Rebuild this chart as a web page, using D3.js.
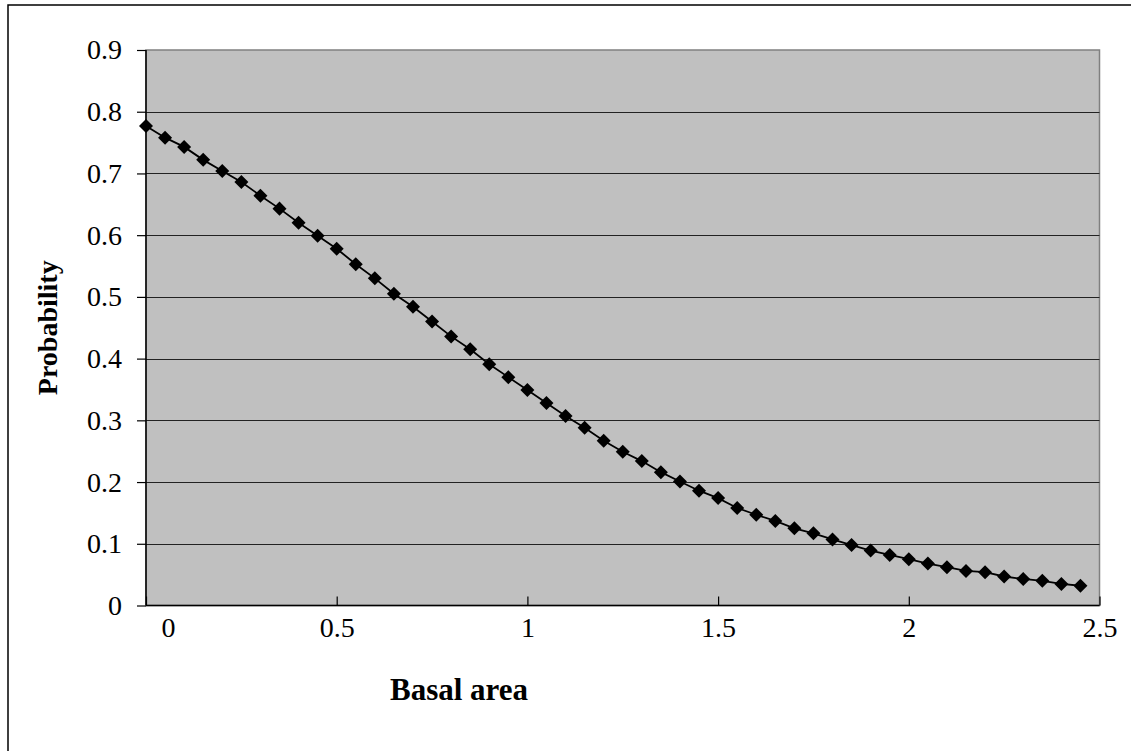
<!DOCTYPE html>
<html><head><meta charset="utf-8">
<script src="https://cdn.jsdelivr.net/npm/d3@7/dist/d3.min.js"></script>
<style>html,body{margin:0;padding:0;background:#fff;}svg{display:block;}</style>
</head><body>
<svg id="chart" width="1131" height="751"></svg>
<script>
const basalArea = [0,0.05,0.1,0.15,0.2,0.25,0.3,0.35,0.4,0.45,0.5,0.55,0.6,0.65,0.7,0.75,0.8,0.85,0.9,0.95,1,1.05,1.1,1.15,1.2,1.25,1.3,1.35,1.4,1.45,1.5,1.55,1.6,1.65,1.7,1.75,1.8,1.85,1.9,1.95,2,2.05,2.1,2.15,2.2,2.25,2.3,2.35,2.4,2.45];
const probability = [0.777,0.758,0.743,0.722,0.704,0.686,0.664,0.643,0.620,0.599,
  0.578,0.553,0.530,0.505,0.484,0.460,0.436,0.415,0.391,0.370,
  0.349,0.328,0.307,0.288,0.267,0.249,0.234,0.216,0.201,0.186,
  0.174,0.158,0.147,0.137,0.125,0.117,0.107,0.098,0.089,0.082,
  0.075,0.068,0.062,0.056,0.054,0.047,0.043,0.040,0.035,0.032];
const xTicks = [0,0.5,1,1.5,2,2.5];
const yTicks = [0,0.1,0.2,0.3,0.4,0.5,0.6,0.7,0.8,0.9];
const xTitle = "Basal area";
const yTitle = "Probability";

const svg = d3.select("#chart");
const L = 146, R = 1099.5, T = 50, B = 605.5;
const x = d3.scaleLinear().domain([0,2.5]).range([L,R]);
const y = d3.scaleLinear().domain([0,0.9]).range([B,T]);
const font = "'Liberation Serif','Times New Roman',serif";

// outer chart border
svg.append("rect").attr("x",8).attr("y",5).attr("width",1140).attr("height",760)
  .attr("fill","#fff").attr("stroke","#000").attr("stroke-width",1.5);

// plot area
svg.append("rect").attr("x",L).attr("y",T).attr("width",R-L).attr("height",B-T)
  .attr("fill","#c0c0c0").attr("stroke","#808080").attr("stroke-width",1.5);

// gridlines
svg.append("g").selectAll("line").data(yTicks.filter(d=>d>0 && d<0.9)).join("line")
  .attr("x1",L).attr("x2",R).attr("y1",d=>Math.round(y(d))+0.5).attr("y2",d=>Math.round(y(d))+0.5)
  .attr("stroke","#222").attr("stroke-width",1);

// y axis
const yAxis = d3.axisLeft(y).tickValues(yTicks).tickSize(9).tickPadding(15)
  .tickFormat(d=>d3.format("")(+d.toFixed(1)));
const gy = svg.append("g").attr("transform",`translate(${L},0)`).call(yAxis);
gy.select(".domain").attr("stroke","#000").attr("stroke-width",1.5).attr("d",`M0,${T}V${B}`);
gy.selectAll(".tick line").attr("stroke","#000").attr("stroke-width",1.2);
gy.selectAll(".tick text").attr("font-family",font).attr("font-size",28).attr("fill","#000");

// x axis (ticks inside)
const xAxis = d3.axisBottom(x).tickValues(xTicks).tickSize(-9).tickPadding(12)
  .tickFormat(d=>String(d));
const gx = svg.append("g").attr("transform",`translate(0,${B})`).call(xAxis);
gx.select(".domain").attr("stroke","#000").attr("stroke-width",1.5).attr("d",`M${L},0H${R}`);
gx.selectAll(".tick line").attr("stroke","#000").attr("stroke-width",1.2);
gx.selectAll(".tick text").attr("font-family",font).attr("font-size",28).attr("fill","#000")
  .attr("dx",d=>d===0?22:0);

// series
const pts = basalArea.map((v,i)=>[v,probability[i]]);
svg.append("path").datum(pts)
  .attr("d",d3.line().x(d=>x(d[0])).y(d=>y(d[1])))
  .attr("fill","none").attr("stroke","#000").attr("stroke-width",1.8);
const diamond = d3.symbol().type(d3.symbolDiamond2).size(125);
svg.append("g").selectAll("path").data(pts).join("path")
  .attr("transform",d=>`translate(${x(d[0])},${y(d[1])})`)
  .attr("d",diamond).attr("fill","#000");

// axis titles
svg.append("text").attr("x",459).attr("y",700).attr("text-anchor","middle")
  .attr("font-family",font).attr("font-size",31).attr("font-weight","bold").text(xTitle);
svg.append("text").attr("transform",`translate(57,${(T+B)/2}) rotate(-90)`).attr("text-anchor","middle")
  .attr("font-family",font).attr("font-size",28).attr("font-weight","bold").text(yTitle);
</script>
</body></html>
